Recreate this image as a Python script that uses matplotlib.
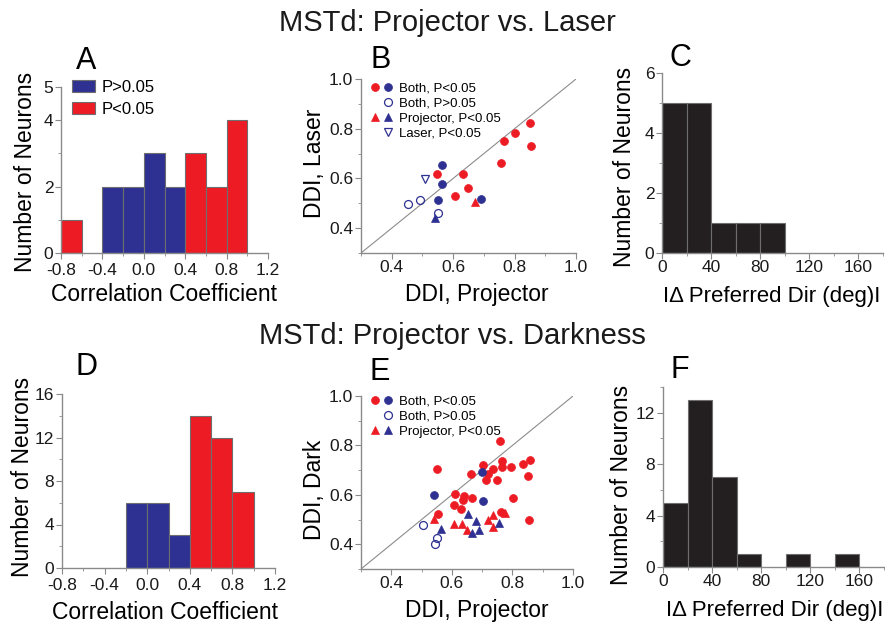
import matplotlib.pyplot as plt
from matplotlib.patches import Patch
from matplotlib.lines import Line2D
from matplotlib.legend_handler import HandlerTuple
from matplotlib.ticker import MultipleLocator

plt.rcParams['font.family'] = 'Liberation Sans'
plt.rcParams['axes.unicode_minus'] = False

RED = '#ED1C24'
BLUE = '#2E3192'
AXIS_GRAY = '#8a8a8a'

# --- histogram counts ---
corr_left = [-0.8, -0.6, -0.4, -0.2, 0.0, 0.2, 0.4, 0.6, 0.8]
laser_corr_ns = [0, 0, 2, 2, 3, 2, 0, 0, 0]
laser_corr_sig = [1, 0, 0, 0, 0, 0, 3, 2, 4]
dark_corr_ns = [0, 0, 0, 6, 6, 3, 0, 0, 0]
dark_corr_sig = [0, 0, 0, 0, 0, 0, 14, 12, 7]

dir_left = [0, 20, 40, 60, 80, 100, 120, 140]
laser_dir = [5, 5, 1, 1, 1, 0, 0, 0]
dark_dir = [5, 13, 7, 1, 0, 1, 0, 1]

# --- DDI scatter, projector vs laser ---
laser_both_red_x = [0.546, 0.632, 0.606, 0.649, 0.757, 0.767, 0.801, 0.849, 0.854]
laser_both_red_y = [0.618, 0.618, 0.528, 0.561, 0.662, 0.750, 0.781, 0.824, 0.730]
laser_both_blue_x = [0.565, 0.563, 0.550, 0.690]
laser_both_blue_y = [0.653, 0.579, 0.512, 0.516]
laser_ns_x = [0.453, 0.493, 0.550]
laser_ns_y = [0.497, 0.514, 0.462]
laser_proj_red_x = [0.672]
laser_proj_red_y = [0.505]
laser_proj_blue_x = [0.540]
laser_proj_blue_y = [0.440]
laser_only_x = [0.508]
laser_only_y = [0.596]

# --- DDI scatter, projector vs darkness ---
dark_both_red_x = [0.551, 0.553, 0.609, 0.607, 0.631, 0.641, 0.638, 0.664, 0.668,
                   0.702, 0.718, 0.735, 0.714, 0.748, 0.758, 0.766, 0.764, 0.794,
                   0.803, 0.834, 0.857, 0.850, 0.855, 0.762]
dark_both_red_y = [0.703, 0.524, 0.602, 0.560, 0.543, 0.595, 0.579, 0.683, 0.589,
                   0.721, 0.684, 0.703, 0.660, 0.660, 0.817, 0.736, 0.711, 0.713,
                   0.589, 0.724, 0.742, 0.676, 0.500, 0.529]
dark_both_blue_x = [0.541, 0.700, 0.703]
dark_both_blue_y = [0.601, 0.693, 0.577]
dark_ns_x = [0.505, 0.550, 0.545]
dark_ns_y = [0.480, 0.426, 0.403]
dark_proj_red_x = [0.540, 0.607, 0.635, 0.650, 0.718, 0.735, 0.736, 0.777]
dark_proj_red_y = [0.504, 0.482, 0.484, 0.459, 0.498, 0.520, 0.471, 0.528]
dark_proj_blue_x = [0.565, 0.654, 0.666, 0.679, 0.690, 0.756]
dark_proj_blue_y = [0.463, 0.521, 0.447, 0.496, 0.458, 0.485]

W, H = 885, 623
fig = plt.figure(figsize=(W / 100, H / 100), dpi=100)


def px_axes(left, right, top, bottom):
    return fig.add_axes([left / W, 1 - bottom / H, (right - left) / W, (bottom - top) / H])


def style(ax, xpad=1):
    for side in ('top', 'right'):
        ax.spines[side].set_visible(False)
    for side in ('left', 'bottom'):
        ax.spines[side].set_color(AXIS_GRAY)
        ax.spines[side].set_linewidth(1.0)
    ax.tick_params(which='both', direction='out', color=AXIS_GRAY, labelsize=12.5,
                   labelcolor='#1a1a1a')
    ax.tick_params(axis='x', pad=xpad)
    ax.tick_params(axis='y', pad=1.5)
    ax.tick_params(which='major', length=4)
    ax.tick_params(which='minor', length=2.5)


def place_labels(ax, rect, xlab, ylab):
    # xlab: (center x, top y) ; ylab: (anchor x, center y), all in pixels
    left, right, top, bottom = rect
    ax.xaxis.set_label_coords((xlab[0] - left) / (right - left),
                              (bottom - xlab[1]) / (bottom - top))
    ax.yaxis.set_label_coords((ylab[0] - left) / (right - left),
                              (bottom - ylab[1]) / (bottom - top))


def bars(ax, lefts, counts, width, color):
    xs = [l for l, c in zip(lefts, counts) if c > 0]
    hs = [c for c in counts if c > 0]
    ax.bar(xs, hs, width=width, align='edge', color=color,
           edgecolor='#6e6e6e', linewidth=0.8, zorder=2)


def corr_panel(rect, ns, sig, yticks, ymax, minor, xlab, ylab, legend=False):
    ax = px_axes(*rect)
    bars(ax, corr_left, ns, 0.2, BLUE)
    bars(ax, corr_left, sig, 0.2, RED)
    ax.set_xlim(-0.8, 1.2)
    ax.set_ylim(0, ymax)
    ax.set_xticks([-0.8, -0.4, 0.0, 0.4, 0.8, 1.2])
    ax.set_xticklabels(['-0.8', '-0.4', '0.0', '0.4', '0.8', '1.2'])
    ax.xaxis.set_minor_locator(MultipleLocator(0.2))
    ax.set_yticks(yticks)
    ax.set_yticks(minor, minor=True)
    ax.set_xlabel('Correlation Coefficient', fontsize=16.5)
    ax.set_ylabel('Number of Neurons', fontsize=16.5)
    style(ax, xpad=3)
    place_labels(ax, rect, xlab, ylab)
    if legend:
        handles = [Patch(facecolor=BLUE, edgecolor='#6e6e6e', linewidth=0.8),
                   Patch(facecolor=RED, edgecolor='#6e6e6e', linewidth=0.8)]
        ax.legend(handles, ['P>0.05', 'P<0.05'], loc='upper left',
                  bbox_to_anchor=(72 / W, 1 - 80 / H), bbox_transform=fig.transFigure,
                  frameon=False, fontsize=12, handlelength=1.35, handleheight=0.68,
                  handletextpad=0.45, labelspacing=0.4, borderpad=0, borderaxespad=0)
    return ax


def dir_panel(rect, counts, yticks, ymax, minor, xlab, ylab):
    ax = px_axes(*rect)
    bars(ax, dir_left, counts, 20, '#231f20')
    ax.set_xlim(0, 180)
    ax.set_ylim(0, ymax)
    ax.set_xticks([0, 40, 80, 120, 160])
    ax.set_xticks([20, 60, 100, 140, 180], minor=True)
    ax.set_yticks(yticks)
    ax.set_yticks(minor, minor=True)
    ax.set_xlabel('I\u0394 Preferred Dir (deg)I', fontsize=16)
    ax.set_ylabel('Number of Neurons', fontsize=16.5)
    style(ax)
    place_labels(ax, rect, xlab, ylab)
    return ax


def mk(marker, color, filled=True, ms=5.7):
    return dict(marker=marker, linestyle='none', ms=ms,
                mfc=color if filled else 'none', mec=color,
                mew=0.9 if not filled else 0.5, zorder=3)


def ddi_panel(rect, ylabel, groups, legend_rows, legend_top, xlab, ylab):
    ax = px_axes(*rect)
    ax.plot([0.3, 1.0], [0.3, 1.0], color='#8c8c8c', linewidth=0.8, zorder=1)
    for xs, ys, kw in groups:
        ax.plot(xs, ys, **kw)
    ax.set_xlim(0.3, 1.0)
    ax.set_ylim(0.3, 1.0)
    ax.set_xticks([0.4, 0.6, 0.8, 1.0])
    ax.set_yticks([0.4, 0.6, 0.8, 1.0])
    ax.set_xticks([0.3, 0.5, 0.7, 0.9], minor=True)
    ax.set_yticks([0.3, 0.5, 0.7, 0.9], minor=True)
    ax.set_xlabel('DDI, Projector', fontsize=16.5)
    ax.set_ylabel(ylabel, fontsize=16.5)
    style(ax)
    place_labels(ax, rect, xlab, ylab)

    handles = [h for h, _ in legend_rows]
    labels = [t for _, t in legend_rows]
    ax.legend(handles, labels, handler_map={tuple: HandlerTuple(ndivide=None, pad=0.24)},
              loc='upper left', bbox_to_anchor=(370 / W, 1 - legend_top / H),
              bbox_transform=fig.transFigure, frameon=False, fontsize=9.5,
              handlelength=1.75, handletextpad=0.45, labelspacing=0.22,
              borderpad=0, borderaxespad=0)
    return ax


empty = Line2D([], [], linestyle='none')
h_both = (Line2D([], [], **mk('o', RED)), Line2D([], [], **mk('o', BLUE)))
h_ns = (empty, Line2D([], [], **mk('o', BLUE, filled=False)))
h_proj = (Line2D([], [], **mk('^', RED, ms=6)), Line2D([], [], **mk('^', BLUE, ms=6)))
h_laser = (empty, Line2D([], [], **mk('v', BLUE, filled=False, ms=6)))

# ---------- top row: projector vs laser ----------
fig.text(447 / W, 1 - 31 / H, 'MSTd: Projector vs. Laser', fontsize=21,
         ha='center', va='baseline', color='#1a1a1a')

rect_a = (61, 268, 87, 253)
corr_panel(rect_a, laser_corr_ns, laser_corr_sig, [0, 2, 4, 5], 5, [1, 3],
           xlab=(164, 283), ylab=(37, 172), legend=True)

rect_b = (361, 576, 79, 253)
ddi_panel(rect_b, 'DDI, Laser',
          [(laser_both_red_x, laser_both_red_y, mk('o', RED)),
           (laser_both_blue_x, laser_both_blue_y, mk('o', BLUE)),
           (laser_ns_x, laser_ns_y, mk('o', BLUE, filled=False)),
           (laser_proj_red_x, laser_proj_red_y, mk('^', RED, ms=6)),
           (laser_proj_blue_x, laser_proj_blue_y, mk('^', BLUE, ms=6)),
           (laser_only_x, laser_only_y, mk('v', BLUE, filled=False, ms=6))],
          [(h_both, 'Both, P<0.05'), (h_ns, 'Both, P>0.05'),
           (h_proj, 'Projector, P<0.05'), (h_laser, 'Laser, P<0.05')],
          legend_top=82, xlab=(477, 283), ylab=(326, 163))

rect_c = (662, 883, 73, 253)
dir_panel(rect_c, laser_dir, [0, 2, 4, 6], 6, [1, 3, 5],
          xlab=(772, 286), ylab=(636, 167))

# ---------- bottom row: projector vs darkness ----------
fig.text(452 / W, 1 - 344 / H, 'MSTd: Projector vs. Darkness', fontsize=21,
         ha='center', va='baseline', color='#1a1a1a')

rect_d = (62, 275, 394, 568)
corr_panel(rect_d, dark_corr_ns, dark_corr_sig, [0, 4, 8, 12, 16], 16, [2, 6, 10, 14],
           xlab=(165, 601), ylab=(34, 477))

rect_e = (361, 573, 396, 569)
ddi_panel(rect_e, 'DDI, Dark',
          [(dark_both_red_x, dark_both_red_y, mk('o', RED)),
           (dark_both_blue_x, dark_both_blue_y, mk('o', BLUE)),
           (dark_ns_x, dark_ns_y, mk('o', BLUE, filled=False)),
           (dark_proj_red_x, dark_proj_red_y, mk('^', RED, ms=6)),
           (dark_proj_blue_x, dark_proj_blue_y, mk('^', BLUE, ms=6))],
          [(h_both, 'Both, P<0.05'), (h_ns, 'Both, P>0.05'),
           (h_proj, 'Projector, P<0.05')],
          legend_top=395, xlab=(477, 599), ylab=(326, 490))

rect_f = (663, 884, 387, 567)
dir_panel(rect_f, dark_dir, [0, 4, 8, 12], 14, [2, 6, 10, 14],
          xlab=(775, 600), ylab=(633, 485))

# panel letters
for letter, x, y in [('A', 86, 69), ('B', 381, 68), ('C', 680, 66),
                     ('D', 86, 375), ('E', 380, 380), ('F', 680, 378)]:
    fig.text(x / W, 1 - y / H, letter, fontsize=22, ha='center', va='baseline')

fig.savefig('out.png', dpi=100)
